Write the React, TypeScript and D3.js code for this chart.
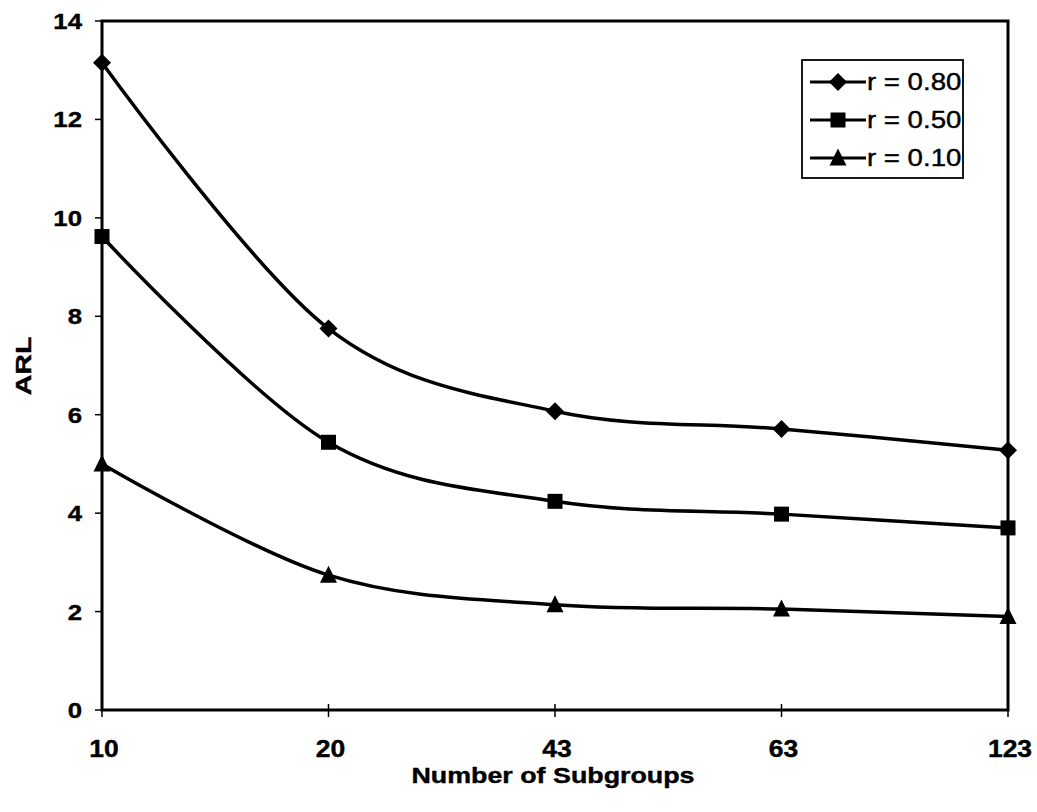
import React from "react";
import * as d3 from "d3";

// Number of subgroups (categorical x axis)
const subgroups = ["10", "20", "43", "63", "123"];
// Average run length for each correlation level
const arlR080 = [13.15, 7.75, 6.07, 5.71, 5.28];
const arlR050 = [9.62, 5.44, 4.24, 3.98, 3.7];
const arlR010 = [5.0, 2.74, 2.14, 2.05, 1.9];
const yTicks = [0, 2, 4, 6, 8, 10, 12, 14];

const seriesNames = ["r = 0.80", "r = 0.50", "r = 0.10"];
const seriesValues = [arlR080, arlR050, arlR010];
const markerKinds = ["diamond", "square", "triangle"];

const W = 1037;
const H = 812;
const left = 102;
const right = 1008;
const top = 21;
const bottom = 710;
const FONT = "'Liberation Sans', Arial, sans-serif";

function Marker({ kind, x, y }: { kind: string; x: number; y: number }) {
  if (kind === "diamond") {
    const s = 9;
    return <path d={`M${x},${y - s}L${x + s},${y}L${x},${y + s}L${x - s},${y}Z`} fill="#000" />;
  }
  if (kind === "square") {
    const s = 7.5;
    return <rect x={x - s} y={y - s} width={2 * s} height={2 * s} fill="#000" />;
  }
  const s = 8.5;
  return <path d={`M${x},${y - s - 1}L${x + s},${y + s - 1}L${x - s},${y + s - 1}Z`} fill="#000" />;
}

// Text stretched horizontally along its own direction
function WideText({
  x, y, sx, size, anchor, rotate, weight, children,
}: {
  x: number; y: number; sx: number; size: number; anchor: string; rotate?: number; weight?: string; children: React.ReactNode;
}) {
  return (
    <text
      transform={`translate(${x},${y}) rotate(${rotate ?? 0}) scale(${sx},1)`}
      textAnchor={anchor}
      fontFamily={FONT}
      fontWeight={weight ?? "bold"}
      fontSize={size}
      fill="#000"
      stroke="#000"
      strokeWidth={0.4}
    >
      {children}
    </text>
  );
}

export default function App() {
  const x = d3.scalePoint<string>().domain(subgroups).range([left, right]);
  const y = d3.scaleLinear().domain([0, 14]).range([bottom, top]);

  const line = d3
    .line<number>()
    .x((_, i) => x(subgroups[i]) as number)
    .y((d) => y(d))
    .curve(d3.curveCardinal.tension(0));

  const legendX = 802;
  const legendY = 60;
  const legendW = 161;
  const legendH = 118;
  const rowY = [82, 120, 158];

  return (
    <svg width={W} height={H} style={{ display: "block", position: "absolute", left: 0, top: 0 }}>
      <rect x={0} y={0} width={W} height={H} fill="#fff" />

      {/* plot frame */}
      <rect x={left} y={top} width={right - left} height={bottom - top} fill="none" stroke="#000" strokeWidth={3} />

      {/* y axis ticks and labels */}
      {yTicks.map((t) => (
        <g key={`y${t}`}>
          <line x1={95} x2={left} y1={y(t)} y2={y(t)} stroke="#000" strokeWidth={1.5} />
          <WideText x={82} y={y(t) + 8} sx={1.12} size={23} anchor="end">
            {t}
          </WideText>
        </g>
      ))}

      {/* x axis ticks and labels */}
      {subgroups.map((s) => (
        <g key={`x${s}`}>
          <line x1={x(s)} x2={x(s)} y1={bottom - 6} y2={bottom + 7} stroke="#000" strokeWidth={1.5} />
          <WideText x={(x(s) as number) + 2} y={757} sx={1.15} size={23} anchor="middle">
            {s}
          </WideText>
        </g>
      ))}

      {/* series */}
      {seriesValues.map((vals, k) => (
        <g key={seriesNames[k]}>
          <path d={line(vals) ?? ""} fill="none" stroke="#000" strokeWidth={3.5} />
          {vals.map((v, i) => (
            <Marker key={i} kind={markerKinds[k]} x={x(subgroups[i]) as number} y={y(v)} />
          ))}
        </g>
      ))}

      {/* legend */}
      <rect x={legendX} y={legendY} width={legendW} height={legendH} fill="#fff" stroke="#000" strokeWidth={1.8} />
      {seriesNames.map((name, k) => (
        <g key={`lg${k}`}>
          <line x1={810} x2={866} y1={rowY[k]} y2={rowY[k]} stroke="#000" strokeWidth={3} />
          <Marker kind={markerKinds[k]} x={838} y={rowY[k]} />
          <WideText x={867} y={rowY[k] + 8} sx={1.2} size={23} anchor="start" weight="normal">
            {name}
          </WideText>
        </g>
      ))}

      {/* axis titles */}
      <WideText x={553} y={783} sx={1.22} size={22} anchor="middle">
        Number of Subgroups
      </WideText>
      <WideText x={31} y={366} sx={1.3} size={22} anchor="middle" rotate={-90}>
        ARL
      </WideText>
    </svg>
  );
}
